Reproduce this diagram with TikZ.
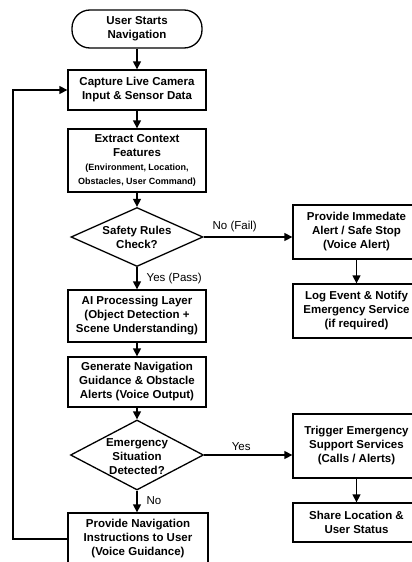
\documentclass[tikz,border=0pt]{standalone}
\usepackage{fontspec}
\setmainfont{Liberation Sans}
\usetikzlibrary{shapes.geometric,arrows.meta}
\begin{document}
\begin{tikzpicture}[x=1pt,y=-1pt,
  box/.style={draw, line width=1.3pt, align=center, inner sep=0pt,
    font=\bfseries\fontsize{11.5}{14}\selectfont},
  dec/.style={draw, diamond, line width=1.3pt, inner sep=0pt},
  dectext/.style={align=center, font=\bfseries\fontsize{11.5}{14}\selectfont},
  arr/.style={line width=1.3pt, -{Triangle[length=8pt,width=8pt]}},
  lab/.style={font=\fontsize{11.5}{14}\selectfont, inner sep=0pt}]
\useasboundingbox (0,0) rectangle (412,562);

% main column
\node[box, rounded corners=18pt, minimum width=130pt, minimum height=38pt] (start) at (137,29) {User Starts\\Navigation};
\node[box, minimum width=138pt, minimum height=40pt] (cap) at (137,90) {Capture Live Camera\\Input \& Sensor Data};
\node[box, minimum width=138pt, minimum height=63pt] (ext) at (137,160.5) {Extract Context\\Features\\\fontsize{9}{13}\selectfont (Environment, Location,\\\fontsize{9}{13}\selectfont Obstacles, User Command)};
\node[dec, minimum width=132pt, minimum height=59pt] (safe) at (137,237) {};
\node[dectext] (safetext) at (safe.center) {Safety Rules\\Check?};
\node[box, minimum width=138pt, minimum height=52pt] (ai) at (137,316) {AI Processing Layer\\(Object Detection +\\Scene Understanding)};
\node[box, minimum width=138pt, minimum height=50pt] (gen) at (137,382) {Generate Navigation\\Guidance \& Obstacle\\Alerts (Voice Output)};
\node[dec, minimum width=133pt, minimum height=70pt] (emer) at (137,455) {};
\node[dectext] (emertext) at (137,457) {Emergency\\Situation\\Detected?};
\node[box, minimum width=140pt, minimum height=52pt] (nav) at (138,539) {Provide Navigation\\Instructions to User\\(Voice Guidance)};

% right column
\node[box, minimum width=127pt, minimum height=54pt] (imm) at (356.5,232) {Provide Immedate\\Alert / Safe Stop\\(Voice Alert)};
\node[box, minimum width=127pt, minimum height=54pt] (log) at (356.5,311) {Log Event \& Notify\\Emergency Service\\(if required)};
\node[box, minimum width=127pt, minimum height=64pt] (trig) at (356.5,446) {Trigger Emergency\\Support Services\\(Calls / Alerts)};
\node[box, minimum width=127pt, minimum height=39pt] (share) at (356.5,522.5) {Share Location \&\\User Status};

% connectors
\draw[arr] (start.south) -- (cap.north);
\draw[arr] (cap.south) -- (ext.north);
\draw[arr] (ext.south) -- (safe.north);
\draw[arr] (safe.south) -- (ai.north) node[lab, pos=0.5, anchor=west, xshift=9pt] (yp) {Yes (Pass)};
\draw[arr] (ai.south) -- (gen.north);
\draw[arr] (gen.south) -- (emer.north);
\draw[arr] (emer.south) -- (emer.south |- nav.north) node[lab, pos=0.45, anchor=west, xshift=9pt] (no) {No};
\draw[arr] (safe.east) -- (safe.east -| imm.west) node[lab, pos=0.35, anchor=south, yshift=4pt] (nf) {No (Fail)};
\draw[arr] (imm.south) -- (log.north);
\draw[arr] (emer.east) -- (emer.east -| trig.west) node[lab, pos=0.42, anchor=south, yshift=4pt] (ys) {Yes};
\draw[arr] (trig.south) -- (share.north);

\coordinate (loopx) at (13,0);
\draw[arr] (nav.west) -- (nav.west -| loopx) |- (cap.west);
\end{tikzpicture}
\end{document}
